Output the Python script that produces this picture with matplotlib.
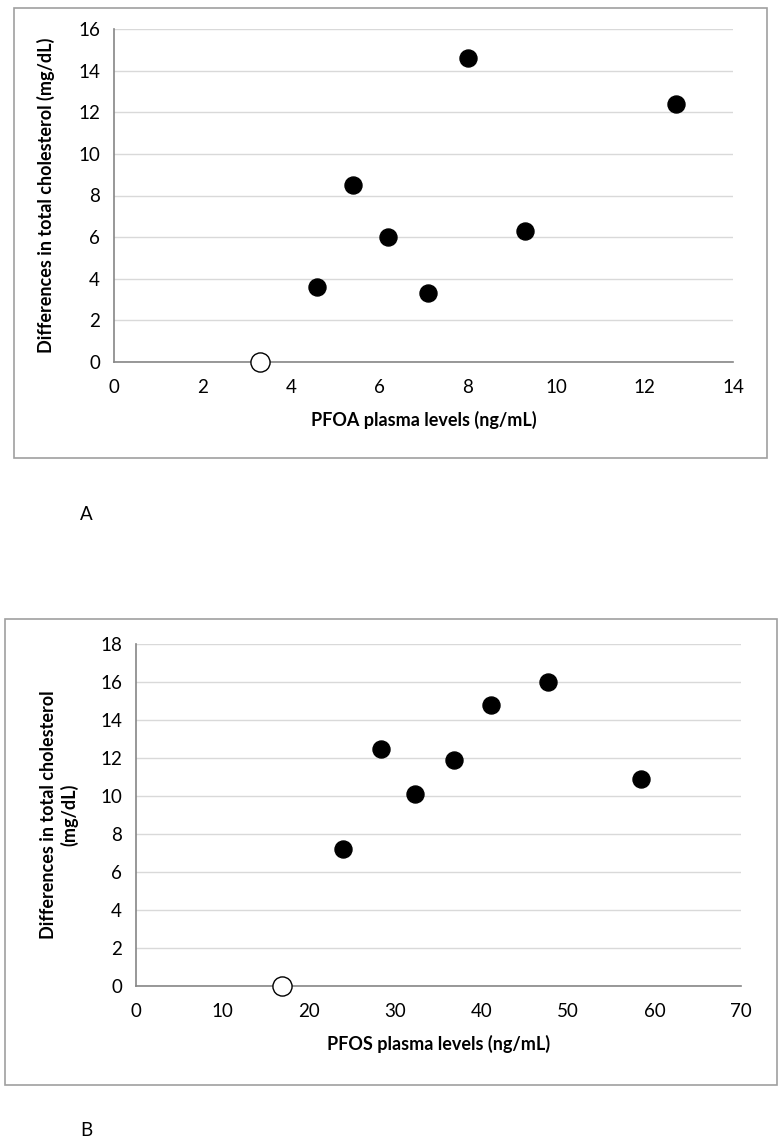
import matplotlib
matplotlib.use("Agg")
import matplotlib.pyplot as plt
from matplotlib.patches import Rectangle

## Panel A data (PFOA)
pfoa_x = [4.6, 5.4, 6.2, 7.1, 8.0, 9.3, 12.7]
pfoa_y = [3.6, 8.5, 6.0, 3.3, 14.6, 6.3, 12.4]
pfoa_ref_x = [3.3]
pfoa_ref_y = [0]

## Panel B data (PFOS)
pfos_x = [23.9, 28.3, 32.3, 36.8, 41.1, 47.7, 58.4]
pfos_y = [7.2, 12.5, 10.1, 11.9, 14.8, 16.0, 10.9]
pfos_ref_x = [16.9]
pfos_ref_y = [0]

plt.rcParams['font.family'] = ['Lato', 'DejaVu Sans']

W, H = 782, 1148
fig = plt.figure(figsize=(W / 100, H / 100), dpi=100)


def px(x0, y0, x1, y1):
    # pixel box (top-left origin) -> figure fraction rect
    return [x0 / W, 1 - y1 / H, (x1 - x0) / W, (y1 - y0) / H]


def panel(rect, box, xs, ys, rx, ry, xmax, xstep, ymax, ystep, xlabel, ylabel, ylpad):
    fig.patches.append(Rectangle((box[0], box[1]), box[2], box[3], transform=fig.transFigure,
                                 fill=False, edgecolor='#a0a0a0', linewidth=1.2))
    ax = fig.add_axes(rect)
    ax.set_xlim(0, xmax)
    ax.set_ylim(0, ymax)
    ax.set_xticks(range(0, xmax + 1, xstep))
    ax.set_yticks(range(0, ymax + 1, ystep))
    ax.grid(axis='y', color='#d9d9d9', linewidth=1)
    ax.set_axisbelow(True)
    for s in ['top', 'right']:
        ax.spines[s].set_visible(False)
    for s in ['left', 'bottom']:
        ax.spines[s].set_color('#868686')
        ax.spines[s].set_linewidth(1.2)
    ax.tick_params(length=0, labelsize=13.5, colors='#000000')
    ax.tick_params(axis='y', pad=10)
    ax.tick_params(axis='x', pad=12)
    ax.scatter(xs, ys, s=150, color='black', zorder=3, clip_on=False)
    ax.scatter(rx, ry, s=190, facecolor='white', edgecolor='black', linewidth=1, zorder=4, clip_on=False)
    ax.set_xlabel(xlabel, fontsize=13, fontweight='bold', labelpad=11)
    ax.set_ylabel(ylabel, fontsize=13, fontweight='bold', labelpad=ylpad)
    return ax


panel(px(114, 29, 733, 362), px(14, 8, 767, 458), pfoa_x, pfoa_y, pfoa_ref_x, pfoa_ref_y,
      14, 2, 16, 2, 'PFOA plasma levels (ng/mL)', 'Differences in total cholesterol (mg/dL)', 17)
panel(px(136, 644, 741, 986), px(5, 619, 777, 1085), pfos_x, pfos_y, pfos_ref_x, pfos_ref_y,
      70, 10, 18, 2, 'PFOS plasma levels (ng/mL)', 'Differences in total cholesterol\n(mg/dL)', 16)

fig.text(80 / W, 1 - 515 / H, 'A', fontsize=13.5, va='center')
fig.text(80 / W, 1 - 1130 / H, 'B', fontsize=13.5, va='center')

fig.savefig('out.png', dpi=100)
